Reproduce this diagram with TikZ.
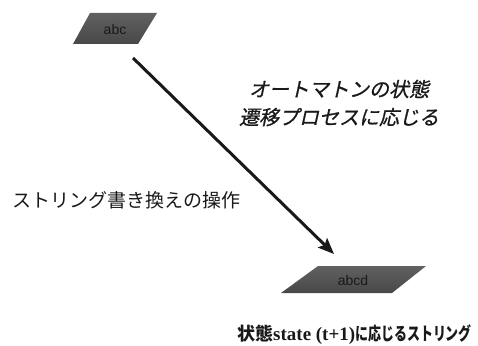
\documentclass[tikz,border=0pt]{standalone}
\usepackage{fontspec}
\usetikzlibrary{arrows.meta}
\newfontfamily\sansf{Liberation Sans}
\newfontfamily\serb{Liberation Serif}
\newfontfamily\jp{Noto Sans CJK JP}
\newfontfamily\jpit{Noto Sans CJK JP}[FakeSlant=0.22,FakeBold=0.8]
\tikzset{
  para/.style={top color=black!62, middle color=black!22, bottom color=black!72, draw=none},
  lbl/.style={inner sep=0pt, font=\sansf\fontsize{14}{16}\selectfont, text=black!90},
  jtext/.style={inner sep=0pt, align=center, text=black!90},
  flow/.style={line width=3pt, draw=black!90, -{Stealth[length=16pt,width=13pt,inset=3pt]}}
}
\begin{document}
\begin{tikzpicture}[x=1pt,y=-1pt]
\useasboundingbox (0,0) rectangle (478,345);
% parallelograms
\shade[para] (90,13) -- (157,13) -- (138,44) -- (73,44) -- cycle;
\shade[para] (318,266) -- (426,266) -- (392,293) -- (281,293) -- cycle;
\node[lbl] (abc) at (115,29) {abc};
\node[lbl] (abcd) at (353,280) {abcd};
% arrow
\coordinate (s) at (133,58);
\coordinate (e) at (334,254);
\draw[flow] (s) -- (e);
% texts
\node[jtext, font=\jpit\fontsize{20}{28}\selectfont] (auto) at (339,103) {オートマトンの状態\\遷移プロセスに応じる};
\node[jtext, anchor=west, font=\jp\fontsize{19}{22}\selectfont] (op) at (12,200) {ストリング書き換えの操作};
\node[jtext, anchor=west, font=\jp\bfseries\fontsize{18}{20}\selectfont] (res) at (237,335)
  {状態{\serb\bfseries\fontsize{19}{20}\selectfont state (t+1)}\scalebox{0.72}[1]{に応じるストリング}};
\end{tikzpicture}
\end{document}
